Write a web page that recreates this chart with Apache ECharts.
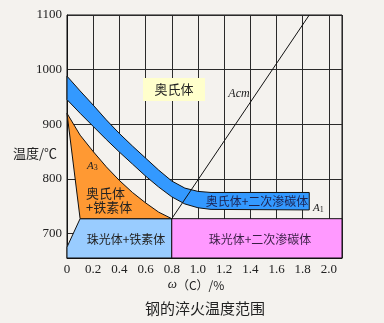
<!DOCTYPE html>
<html>
<head>
<meta charset="utf-8">
<script src="https://cdn.jsdelivr.net/npm/echarts@6/dist/echarts.min.js"></script>
<style>
  html, body { margin: 0; padding: 0; background: #f4f2ee; }
  #chart { width: 384px; height: 323px; }
</style>
</head>
<body>
<div id="chart"></div>
<script>
// Axis ranges: carbon content (wt %) and temperature (°C)
const carbonMin = 0, carbonMax = 2.1, carbonStep = 0.2;
const tempMin = 655, tempMax = 1100;

// A1 line (eutectoid temperature) and eutectoid carbon content
const eutectoidCarbon = 0.8;
const a1Temp = 727;

// A3 line (austenite -> austenite + ferrite)
const a3Carbon = [0, 0.1, 0.2, 0.3, 0.4, 0.5, 0.6, 0.7, 0.8];
const a3Temp   = [920, 880, 850, 822, 797, 775, 756, 739, 727];

// Ferrite field boundary below A1
const ferriteCarbon = [0, 0.1];
const ferriteTemp   = [675, 727];

// Acm line (austenite -> austenite + secondary cementite)
const acmCarbon = [0.8, 1.85];
const acmTemp   = [727, 1100];

// Quenching temperature band: upper and lower limits
const bandCarbon = [0, 0.1, 0.2, 0.3, 0.4, 0.5, 0.6, 0.7, 0.8, 0.9, 1.0, 1.1, 1.85];
const bandUpper  = [988, 961, 935, 908, 883, 860, 838, 816, 796, 783, 777, 775, 775];
const bandLower  = [945, 920, 896, 872, 849, 827, 805, 785, 767, 754, 747, 744, 743];

const serifFont = "'Liberation Serif', 'DejaVu Serif', serif";
const cjkFont = "'Noto Sans CJK SC', sans-serif";

// Build a filled polygon series from carbon/temperature vertex lists
function regionSeries(name, xs, ys, fill, z) {
  return {
    type: 'custom',
    name: name,
    coordinateSystem: 'cartesian2d',
    silent: true,
    z: z,
    data: xs.map((x, i) => [x, ys[i]]),
    renderItem: function (params, api) {
      if (params.dataIndex !== 0) return null;
      return {
        type: 'polygon',
        shape: { points: xs.map((x, i) => api.coord([x, ys[i]])) },
        style: { fill: fill, stroke: '#111', lineWidth: 1 }
      };
    }
  };
}

// Region outlines
const pearliteFerriteC = [ferriteCarbon[0], ferriteCarbon[1], eutectoidCarbon, eutectoidCarbon, carbonMin];
const pearliteFerriteT = [ferriteTemp[0], ferriteTemp[1], a1Temp, tempMin, tempMin];

const pearliteCementiteC = [eutectoidCarbon, carbonMax, carbonMax, eutectoidCarbon];
const pearliteCementiteT = [a1Temp, a1Temp, tempMin, tempMin];

const austFerriteC = a3Carbon.concat([ferriteCarbon[1]]);
const austFerriteT = a3Temp.concat([a1Temp]);

const bandC = bandCarbon.concat(bandCarbon.slice().reverse());
const bandT = bandLower.concat(bandUpper.slice().reverse());

const chart = echarts.init(document.getElementById('chart'), null, { renderer: 'canvas' });

chart.setOption({
  backgroundColor: '#f4f2ee',
  animation: false,
  grid: {
    left: 67, right: 42, top: 15, bottom: 65,
    containLabel: false,
    outerBoundsMode: 'none',
    show: true,
    borderColor: '#111',
    borderWidth: 1,
    backgroundColor: 'transparent'
  },
  xAxis: {
    type: 'value',
    min: carbonMin, max: carbonMax, interval: carbonStep,
    axisLine: { show: true, lineStyle: { color: '#111', width: 1 } },
    axisTick: { show: false },
    axisLabel: {
      margin: 5,
      color: '#222',
      fontFamily: serifFont,
      fontSize: 13,
      formatter: v => (v > 2.05 ? '' : (v === 0 ? '0' : v.toFixed(1)))
    },
    splitLine: { show: true, lineStyle: { color: '#2a2a2a', width: 1 } }
  },
  yAxis: {
    type: 'value',
    min: tempMin, max: tempMax,
    axisLine: { show: true, lineStyle: { color: '#111', width: 1 } },
    axisTick: { show: false },
    axisLabel: {
      margin: 5,
      color: '#222',
      fontFamily: serifFont,
      fontSize: 13,
      formatter: v => (v % 100 === 0 ? String(v) : '')
    },
    splitLine: { show: true, lineStyle: { color: '#2a2a2a', width: 1 } }
  },
  series: [
    regionSeries('珠光体+铁素体', pearliteFerriteC, pearliteFerriteT, '#99ccff', 2),
    regionSeries('珠光体+二次渗碳体', pearliteCementiteC, pearliteCementiteT, '#ff99ff', 2),
    regionSeries('奥氏体+铁素体', austFerriteC, austFerriteT, '#ff9933', 2),
    regionSeries('淬火温度', bandC, bandT, '#3399ff', 3),
    {
      type: 'line',
      name: 'Acm',
      silent: true,
      z: 4,
      symbol: 'none',
      data: acmCarbon.map((c, i) => [c, acmTemp[i]]),
      lineStyle: { color: '#111', width: 1 }
    }
  ],
  graphic: [
    { type: 'rect', z: 10, shape: { x: 143, y: 78, width: 62, height: 23 }, style: { fill: '#ffffcc' } },
    { type: 'text', z: 11, style: { text: '奥氏体', x: 174, y: 89.5, align: 'center', verticalAlign: 'middle', font: '13px ' + cjkFont, fill: '#222' } },
    { type: 'text', z: 11, style: { text: 'Acm', x: 239, y: 94, align: 'center', verticalAlign: 'middle', font: 'italic 12px ' + serifFont, fill: '#222' } },
    { type: 'text', z: 11, style: {
        text: '{a|A}{s|3}', x: 87, y: 166, verticalAlign: 'middle',
        rich: { a: { fontFamily: serifFont, fontStyle: 'italic', fontSize: 11, fill: '#222' },
                s: { fontFamily: serifFont, fontSize: 8, fill: '#222', verticalAlign: 'bottom', padding: [4, 0, 0, 0] } } } },
    { type: 'text', z: 11, style: { text: '奥氏体\n+铁素体', x: 86, y: 200, align: 'left', verticalAlign: 'middle', lineHeight: 14, font: '13px ' + cjkFont, fill: '#222' } },
    { type: 'text', z: 11, style: { text: '珠光体+铁素体', x: 126, y: 239.5, align: 'center', verticalAlign: 'middle', font: '12px ' + cjkFont, fill: '#222' } },
    { type: 'text', z: 11, style: { text: '奥氏体+二次渗碳体', x: 257, y: 201.5, align: 'center', verticalAlign: 'middle', font: '12px ' + cjkFont, fill: '#1c2250' } },
    { type: 'text', z: 11, style: {
        text: '{a|A}{s|1}', x: 313, y: 208, verticalAlign: 'middle',
        rich: { a: { fontFamily: serifFont, fontStyle: 'italic', fontSize: 11, fill: '#222' },
                s: { fontFamily: serifFont, fontSize: 8, fill: '#222', verticalAlign: 'bottom', padding: [4, 0, 0, 0] } } } },
    { type: 'text', z: 11, style: { text: '珠光体+二次渗碳体', x: 260, y: 239.5, align: 'center', verticalAlign: 'middle', font: '12px ' + cjkFont, fill: '#3a1f45' } },
    { type: 'text', z: 11, style: { text: '温度/℃', x: 35, y: 153, align: 'center', verticalAlign: 'middle', font: '13px ' + cjkFont, fill: '#222' } },
    { type: 'text', z: 11, style: {
        text: '{w|ω}{t|（C）/%}', x: 196, y: 285, align: 'center', verticalAlign: 'middle',
        rich: { w: { fontFamily: serifFont, fontStyle: 'italic', fontSize: 13, fill: '#222' },
                t: { fontFamily: cjkFont, fontSize: 12, fill: '#222' } } } },
    { type: 'text', z: 11, style: { text: '钢的淬火温度范围', x: 205, y: 308, align: 'center', verticalAlign: 'middle', font: '15px ' + cjkFont, fill: '#222' } }
  ]
});
</script>
</body>
</html>
